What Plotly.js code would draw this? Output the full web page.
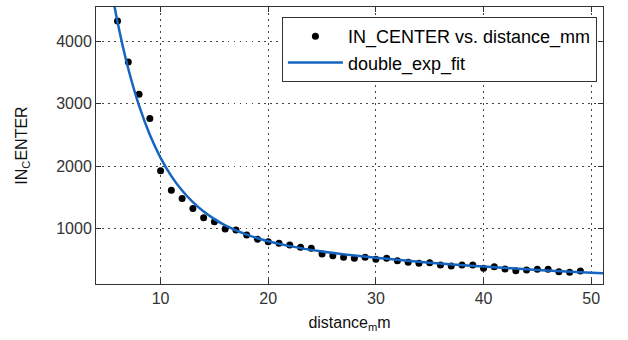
<!DOCTYPE html>
<html>
<head>
<meta charset="utf-8">
<script src="https://cdn.plot.ly/plotly-3.0.1.min.js"></script>
<style>html,body{margin:0;padding:0;background:#fff;}#chart{width:628px;height:340px;}</style>
</head>
<body>
<div id="chart"></div>
<script>
// measured data points
var distance = [6,7,8,9,10,11,12,13,14,15,16,17,18,19,20,21,22,23,24,25,26,27,28,29,30,31,32,33,34,35,36,37,38,39,40,41,42,43,44,45,46,47,48,49];
var inCenter = [4325,3669,3152,2763,1925,1616,1483,1323,1173,1109,992,976,896,827,789,763,736,699,683,592,565,539,523,539,507,523,485,459,443,453,416,400,416,416,363,389,352,325,336,347,347,309,299,320];
// fitted curve values
var fitX = [5,6,7,8,9,10,11,12,13,14,15,16,18,20,22,25,28,30,35,40,45,50,52];
var fitY = [5269,4310,3560,2969,2502,2134,1841,1609,1423,1273,1152,1053,903,798,719,632,567,531,454,392,338,293,276];
var xTicks = [10,20,30,40,50];
var yTicks = [1000,2000,3000,4000];

var font = 'Liberation Sans, Arial, Helvetica, sans-serif';
var traces = [
  {x: distance, y: inCenter, type: 'scatter', mode: 'markers',
   name: 'IN_CENTER vs. distance_mm',
   marker: {color: '#000000', size: 7}},
  {x: fitX, y: fitY, type: 'scatter', mode: 'lines',
   name: 'double_exp_fit', line: {color: '#1565c0', width: 2.5, shape: 'spline'}}
];
var axisCommon = {
  showline: true, linecolor: '#333333', linewidth: 1, mirror: 'ticks',
  ticks: 'inside', ticklen: 5, tickcolor: '#333333',
  showgrid: true, gridcolor: '#444444', griddash: '1.5px,4.5px', gridwidth: 1,
  zeroline: false, tickfont: {family: font, size: 16, color: '#333333'}
};
var layout = {
  width: 628, height: 340,
  paper_bgcolor: '#ffffff', plot_bgcolor: '#ffffff',
  margin: {l: 96, r: 25, t: 7, b: 56},
  showlegend: true,
  legend: {x: 0.988, y: 0.964, xanchor: 'right', yanchor: 'top',
           bordercolor: '#333333', borderwidth: 1, bgcolor: '#ffffff',
           itemwidth: 55,
           font: {family: font, size: 18, color: '#000000'}},
  xaxis: Object.assign({}, axisCommon, {
    range: [4, 51.1], tickvals: xTicks, ticktext: xTicks.map(String),
    title: {text: 'distance<sub>m</sub>m', font: {family: font, size: 16, color: '#111111'}, standoff: 10}
  }),
  yaxis: Object.assign({}, axisCommon, {
    range: [112, 4550], tickvals: yTicks, ticktext: yTicks.map(String),
    title: {text: 'IN<sub>C</sub>ENTER', font: {family: font, size: 16, color: '#111111'}, standoff: 24}
  })
};
Plotly.newPlot('chart', traces, layout, {displayModeBar: false, staticPlot: true});
</script>
</body>
</html>
